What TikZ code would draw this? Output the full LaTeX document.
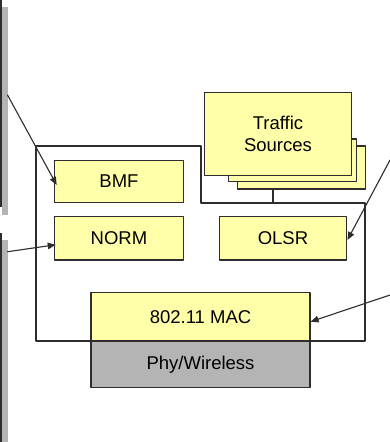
\documentclass[tikz,border=0pt]{standalone}
\usepackage{fontspec}
\setmainfont{Liberation Sans}
\usetikzlibrary{arrows.meta,calc}
\definecolor{boxyellow}{RGB}{255,255,170}
\definecolor{phygray}{RGB}{180,180,180}
\definecolor{edgegray}{RGB}{45,45,45}

\begin{document}
\begin{tikzpicture}[x=1pt, y=-1pt, line width=1.2pt, line cap=round, line join=round,
    every node/.style={font=\fontsize{18.5}{22.5}\selectfont},
    layer/.style={draw=edgegray, fill=boxyellow, inner sep=0pt, align=center},
    pointer/.style={draw=edgegray, line width=1.1pt, -{Triangle[length=8pt,width=6.5pt]}}]
  \useasboundingbox (0,0) rectangle (390,442);

  % shaded strips on the left edge
  \fill[phygray] (1.5,7) rectangle (8,215);
  \fill[edgegray] (0,0) rectangle (1.5,207);
  \fill[phygray] (1.5,240) rectangle (8,442);
  \fill[edgegray] (0,233) rectangle (1.5,442);

  % node frame
  \draw[edgegray] (36,146) -- (201,146) -- (201,203) -- (365,203) -- (365,341) -- (36,341) -- cycle;
  \coordinate (tap) at (273,203);

  % traffic sources, stacked
  \node[layer, minimum width=128pt, minimum height=43pt] (srcback) at (301.7,167.5) {};
  \node[layer, minimum width=128.4pt, minimum height=42.7pt] (srcmid) at (292.5,160.3) {};
  \node[layer, minimum width=147.4pt, minimum height=83.4pt] (src) at (278,134) {Traffic\\Sources};
  \draw[edgegray] (srcback.south -| tap) -- (tap);

  % protocol boxes
  \node[layer, minimum width=128.4pt, minimum height=42.7pt] (bmf) at (119,181.5) {BMF};
  \node[layer, minimum width=128.4pt, minimum height=43.3pt] (norm) at (119,238.3) {NORM};
  \node[layer, minimum width=127.7pt, minimum height=43.3pt] (olsr) at (283,238.3) {OLSR};
  \node[layer, minimum width=219pt, minimum height=48.3pt] (mac) at (200.5,317) {802.11 MAC};
  \node[layer, fill=phygray, minimum width=219pt, minimum height=46.7pt] (phy) at (200.5,364.3) {Phy/Wireless};

  % pointers from outside
  \coordinate (fromtop) at (7.5,95);
  \coordinate (frommid) at (7.5,251.7);
  \coordinate (fromright) at (390,160);
  \coordinate (fromlow) at (390,295);
  \draw[pointer] (fromtop) -- ($(bmf.west)+(2.5,3.5)$);
  \draw[pointer] (frommid) -- ($(norm.west)+(1.5,6.5)$);
  \draw[pointer] (fromright) -- ($(olsr.east)+(0,1.7)$);
  \draw[pointer] (fromlow) -- ($(mac.east)+(0,4.7)$);
\end{tikzpicture}
\end{document}
